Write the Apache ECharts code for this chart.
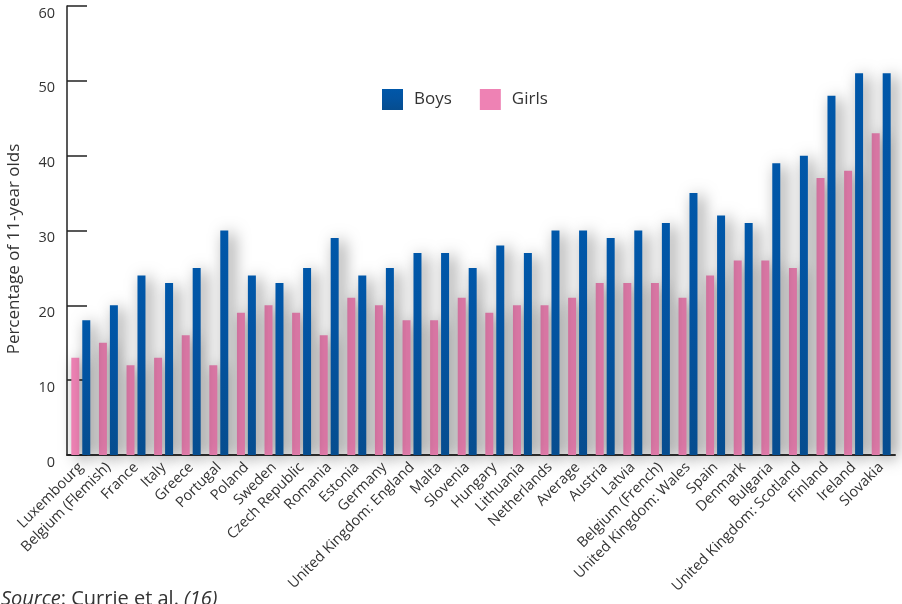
<!DOCTYPE html>
<html>
<head>
<meta charset="utf-8">
<script src="https://cdn.jsdelivr.net/npm/echarts@6/dist/echarts.min.js"></script>
<style>
html,body{margin:0;padding:0;background:#fff;}
#c{width:902px;height:604px;}
</style>
</head>
<body>
<div id="c"></div>
<script>
const categories = ["Luxembourg","Belgium (Flemish)","France","Italy","Greece","Portugal","Poland","Sweden","Czech Republic","Romania","Estonia","Germany","United Kingdom: England","Malta","Slovenia","Hungary","Lithuania","Netherlands","Average","Austria","Latvia","Belgium (French)","United Kingdom: Wales","Spain","Denmark","Bulgaria","United Kingdom: Scotland","Finland","Ireland","Slovakia"];
const boys  = [18,20,24,23,25,30,24,23,25,29,24,25,27,27,25,28,27,30,30,29,30,31,35,32,31,39,40,48,51,51];
const girls = [13,15,12,13,16,12,19,20,19,16,21,20,18,18,21,19,20,20,21,23,23,23,21,24,26,26,25,37,38,43];
const yTicks = {min:0, max:60, interval:10};
const yAxisTitle = "Percentage of 11-year olds";

const FONT = '"Open Sans", "Noto Sans", sans-serif';
const chart = echarts.init(document.getElementById('c'));
const blue = new echarts.graphic.LinearGradient(0,0,0,1,[
  {offset:0,color:'#0057A9'},{offset:0.45,color:'#0353A0'},{offset:1,color:'#064D8F'}]);
const shadow = {shadowBlur:16, shadowColor:'rgba(0,0,0,0.5)', shadowOffsetX:5, shadowOffsetY:3};
chart.setOption({
  animation:false,
  textStyle:{fontFamily:FONT},
  grid:{left:67,right:7,top:6,bottom:149,containLabel:false},
  legend:{
    data:['Boys','Girls'], left:382, top:89, padding:0, icon:'rect', itemWidth:21, itemHeight:21, itemGap:28,
    textStyle:{fontSize:17,color:'#333',fontFamily:FONT,padding:[3,0,0,6]}
  },
  xAxis:{
    type:'category', data:categories, boundaryGap:true,
    axisLine:{lineStyle:{color:'#333',width:2}},
    axisTick:{inside:true,length:11,interval:0,lineStyle:{color:'#333',width:1.5}},
    axisLabel:{rotate:45,interval:0,fontSize:14.5,color:'#333',margin:10,fontFamily:FONT}
  },
  yAxis:{
    type:'value', min:yTicks.min, max:yTicks.max, interval:yTicks.interval,
    axisLine:{show:true,lineStyle:{color:'#222',width:1.5}},
    axisTick:{show:true,inside:true,length:20,lineStyle:{color:'#222',width:1.5}},
    splitLine:{show:false},
    axisLabel:{fontSize:14.5,color:'#333',margin:12,verticalAlign:'top',fontFamily:FONT}
  },
  series:[
    {name:'Girls',type:'bar',data:girls,barWidth:8,barGap:'37%',
     itemStyle:Object.assign({color:'#EE82B4'},shadow)},
    {name:'Boys',type:'bar',data:boys,barWidth:8,barGap:'37%',
     itemStyle:Object.assign({color:blue},shadow)}
  ],
  graphic:[{
    type:'text', x:14, y:249, rotation:Math.PI/2,
    style:{text:yAxisTitle, font:'17px '+FONT, fill:'#333', align:'center', verticalAlign:'middle'}
  },{
    type:'text', left:1, top:589,
    style:{
      text:'{i|Source}: Currie et al. {i|(16)}',
      font:'20px '+FONT, fill:'#333',
      rich:{i:{fontStyle:'italic',fontSize:20,fontFamily:FONT,fill:'#333'}}
    }
  }]
});
</script>
</body>
</html>
